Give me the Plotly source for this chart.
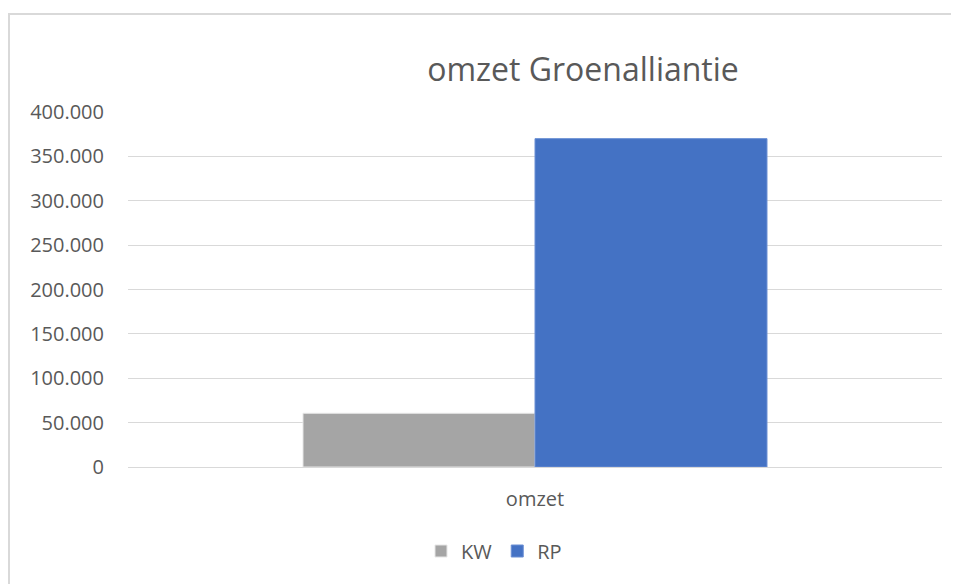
import plotly.graph_objects as go

categories = ["omzet"]
kw_values = [60500]
rp_values = [370000]
tick_vals = [0, 50000, 100000, 150000, 200000, 250000, 300000, 350000, 400000]

font_family = "Open Sans, Liberation Sans, sans-serif"
text_color = "#595959"

# page body has an 8px margin, so the figure is 8px smaller than the window
W, H = 951, 576
OFF = 8

fig = go.Figure()
fig.add_trace(go.Bar(x=categories, y=kw_values, name="KW",
                     marker=dict(color="#a5a5a5", line=dict(color="#e6e6e6", width=1))))
fig.add_trace(go.Bar(x=categories, y=rp_values, name="RP",
                     marker=dict(color="#4472c4", line=dict(color="#6a8fd4", width=1))))

# plot area in window pixels: x 128..942, y 112..467
pl, pr, pt, pb = 128 - OFF, 942 - OFF, 112 - OFF, 467 - OFF

fig.update_layout(
    width=W, height=H,
    margin=dict(l=pl, r=W - pr, t=pt, b=H - pb),
    separators=",.",
    barmode="group",
    bargap=0.43,
    bargroupgap=0,
    plot_bgcolor="white",
    paper_bgcolor="white",
    font=dict(family=font_family, color=text_color, size=20),
    title=dict(text="omzet Groenalliantie", x=(583 - OFF) / W, xanchor="center",
               y=1 - (70 - OFF) / H, yanchor="middle", xref="container", yref="container",
               font=dict(size=32, color=text_color)),
    xaxis=dict(showgrid=False, showline=True, linecolor="#d9d9d9", linewidth=1,
               ticks="", ticklabelstandoff=14, tickfont=dict(size=20)),
    yaxis=dict(range=[0, 400000], tickvals=tick_vals, tickformat=",d",
               showgrid=True, gridcolor="#d9d9d9", gridwidth=1, zeroline=False,
               ticks="", ticklabelstandoff=23, tickfont=dict(size=20)),
    legend=dict(orientation="h", x=(494 - 128) / 814, xanchor="center",
                y=(467 - 551) / 355, yanchor="middle", font=dict(size=20),
                itemwidth=30, traceorder="normal"),
    shapes=[dict(type="rect", xref="paper", yref="paper",
                 x0=(9 - 128) / 814, x1=(1000 - 128) / 814,
                 y0=(467 - 700) / 355, y1=(467 - 14) / 355,
                 line=dict(color="#d9d9d9", width=2), layer="below")],
)

fig.write_html("out.html")
